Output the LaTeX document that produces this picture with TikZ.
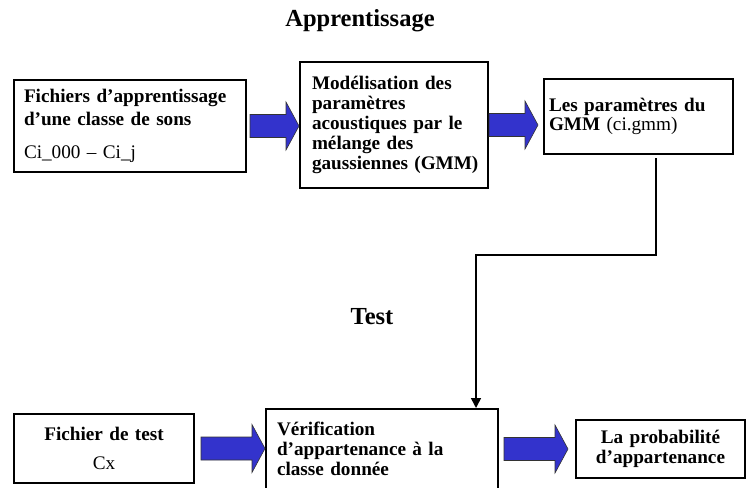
\documentclass[tikz,border=0pt]{standalone}
\usepackage{fontspec}
\setmainfont{Liberation Serif}
\usetikzlibrary{arrows.meta,calc}
\definecolor{arrowblue}{RGB}{51,51,204}
\newcommand{\boxfont}{\fontsize{19.2}{19.8}\selectfont}
\newcommand{\titlefont}{\fontsize{24.5}{28}\selectfont\bfseries}
\tikzset{
  box/.style={draw, line width=2pt, anchor=north west, inner ysep=0pt, font=\boxfont},
  title/.style={anchor=base, font=\titlefont},
  link/.style={-{Triangle[length=10pt,width=10pt]}, line width=1.6pt},
  bigarrow/.style={fill=arrowblue, draw=black!80, line width=0.6pt, to path={
    let \p1=(\tikztostart), \p2=(\tikztotarget) in
    (\x1,\y1+11.5pt) -- (\x2-13pt,\y1+11.5pt) -- (\x2-13pt,\y1+24pt) -- (\x2,\y1)
    -- (\x2-13pt,\y1-24pt) -- (\x2-13pt,\y1-11.5pt) -- (\x1,\y1-11.5pt) -- cycle}},
}
\begin{document}
\begin{tikzpicture}[x=1pt,y=-1pt]
  \useasboundingbox (0,0) rectangle (746,487);
  \clip (0,0) rectangle (746,487);

  % learning stage
  \node[title] (apprent) at (360,27) {Apprentissage};
  \node[box, inner xsep=10pt, text width=212pt, minimum height=92pt, align=left] (fichiers) at (13,79)
    {\textbf{Fichiers d'apprentissage}\\[3pt] \textbf{d'une classe de sons}\\[13pt] Ci\_000 -- Ci\_j};
  \node[box, inner xsep=12pt, text width=164pt, minimum height=126pt, align=left] (model) at (299,61)
    {\textbf{Modélisation des}\\ \textbf{paramètres}\\ \textbf{acoustiques par le}\\
     \textbf{mélange des}\\ \textbf{gaussiennes~(GMM)}};
  \node[box, inner xsep=5pt, text width=179pt, minimum height=75pt, align=left] (params) at (543,78)
    {\textbf{Les paramètres du}\\ \textbf{GMM} (ci.gmm)};

  % test stage
  \node[title] (test) at (372,324) {Test};
  \node[box, inner xsep=10pt, text width=160pt, minimum height=69pt, align=center] (fichtest) at (13,413)
    {\textbf{Fichier de test}\\[9pt] Cx};
  \node[box, inner xsep=11pt, text width=210pt, minimum height=80pt, align=left] (verif) at (265,408)
    {\textbf{Vérification}\\ \textbf{d'appartenance à la}\\ \textbf{classe donnée}};
  \node[box, inner xsep=8pt, text width=153pt, minimum height=58pt, align=center] (proba) at (575,419)
    {\textbf{La probabilité}\\ \textbf{d'appartenance}};

  % block arrows
  \draw[bigarrow] ([xshift=3pt]fichiers.east) to (model.west);
  \draw[bigarrow] (model.east) to ([xshift=49pt]model.east);
  \draw[bigarrow] ([xshift=6pt]fichtest.east) to (verif.west |- fichtest.east);
  \draw[bigarrow] ([xshift=5pt]verif.east |- proba.west) to ([xshift=-7pt]proba.west);

  % trained model goes to the test stage
  \draw[link] ([xshift=17.5pt,yshift=-3pt]params.south) -- ++(0,97) -| ([xshift=94pt]verif.north);
\end{tikzpicture}
\end{document}
